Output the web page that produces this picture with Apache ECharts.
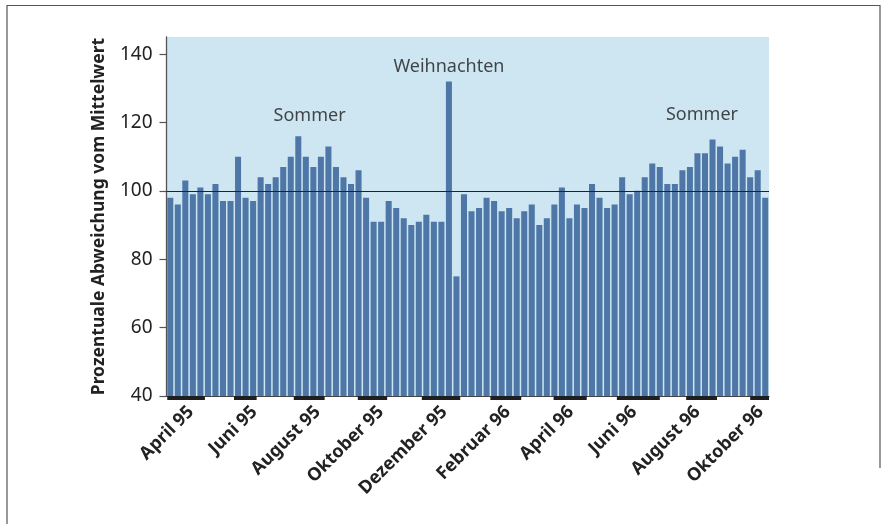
<!DOCTYPE html>
<html>
<head>
<meta charset="utf-8">
<script src="https://cdn.jsdelivr.net/npm/echarts@6/dist/echarts.min.js"></script>
<style>html,body{margin:0;padding:0;background:#fff;}#c{width:888px;height:524px;}</style>
</head>
<body>
<div id="c"></div>
<script>
// Weekly values, April 95 - October 96 (percent of mean)
var weeks = [];
var values = [98,96,103,99,101,99,102,97,97,110,98,97,104,102,104,107,110,116,110,107,
              110,113,107,104,102,106,98,91,91,97,95,92,90,91,93,91,91,132,75,99,
              94,95,98,97,94,95,92,94,96,90,92,96,101,92,96,95,102,98,95,96,
              104,99,100,104,108,107,102,102,106,107,111,111,115,113,108,110,112,104,106,98];
for (var i = 0; i < values.length; i++) weeks.push(String(i + 1));
var yTicks = [40, 60, 80, 100, 120, 140];
var monthLabels = ['April 95','Juni 95','August 95','Oktober 95','Dezember 95',
                   'Februar 96','April 96','Juni 96','August 96','Oktober 96'];
var monthLabelPos = [3.25, 11.66, 20.07, 28.48, 36.9, 45.3, 53.7, 62.1, 70.5, 78.9];
// labelled months as spans in week units [start, end]
var monthSpans = [[0.1,5.1],[8.96,11.97],[16.9,21.0],[25.4,29.3],[33.9,39.0],
                  [43.0,47.1],[51.4,55.8],[59.8,65.5],[69.0,73.1],[77.5,80]];
var notes = [['Sommer', 19.0, 122], ['Weihnachten', 37.5, 136.2], ['Sommer', 71.1, 122.2]];

var chart = echarts.init(document.getElementById('c'), null, {renderer: 'canvas'});
var L = 166.5, R = 119;
chart.setOption({
  animation: false,
  textStyle: {fontFamily: 'Noto Sans'},
  graphic: [
    {type: 'polyline', shape: {points: [[7, 524], [7, 5.5], [880, 5.5], [880, 468]]},
     style: {stroke: '#555', lineWidth: 1.2, fill: null}, silent: true}
  ],
  grid: [
    {left: L, right: R, top: 37, bottom: 128, show: true, backgroundColor: '#cde6f2', borderWidth: 0},
    {left: L, right: R, top: 396, height: 4}
  ],
  xAxis: [
    {type: 'category', gridIndex: 0, data: weeks,
     axisLine: {show: true, lineStyle: {color: '#444', width: 1.2}},
     axisTick: {show: false}, axisLabel: {show: false}, splitLine: {show: false}},
    {type: 'value', gridIndex: 0, min: 0, max: 80, show: false},
    {type: 'value', gridIndex: 1, min: 0, max: 80,
     axisLine: {show: false}, axisTick: {show: false}, splitLine: {show: false},
     axisLabel: {show: true, rotate: 45, margin: 9, fontSize: 18, fontWeight: 'bold', color: '#222',
       customValues: monthLabelPos,
       formatter: function (v) {
         for (var k = 0; k < monthLabelPos.length; k++) if (Math.abs(monthLabelPos[k] - v) < 1e-6) return monthLabels[k];
         return '';
       }}}
  ],
  yAxis: [
    {type: 'value', gridIndex: 0, min: 40, max: 145,
     name: 'Prozentuale Abweichung vom Mittelwert', nameLocation: 'middle', nameGap: 58, nameRotate: 90,
     nameTextStyle: {fontSize: 17.5, fontWeight: 'bold', color: '#222'},
     axisLine: {show: true, lineStyle: {color: '#555', width: 1.3}},
     axisTick: {show: true, length: 7, customValues: yTicks, lineStyle: {color: '#555', width: 1.2}},
     axisLabel: {fontSize: 19, color: '#222', margin: 14, customValues: yTicks},
     splitLine: {show: false}},
    {type: 'value', gridIndex: 1, min: 0, max: 1, show: false}
  ],
  series: [
    {type: 'bar', xAxisIndex: 0, yAxisIndex: 0, data: values, barCategoryGap: '20%',
     itemStyle: {color: '#4e77a7'},
     markLine: {silent: true, symbol: 'none', z: 10, label: {show: false},
       lineStyle: {color: '#222', width: 1.2, type: 'solid'}, data: [{yAxis: 100}]}},
    {type: 'scatter', xAxisIndex: 1, yAxisIndex: 0, symbolSize: 1, itemStyle: {color: 'rgba(0,0,0,0)'},
     data: notes.map(function (n) { return {name: n[0], value: [n[1], n[2]]}; }),
     label: {show: true, position: 'inside', formatter: '{b}', fontSize: 18, color: '#1a1a1a'}},
    {type: 'custom', xAxisIndex: 2, yAxisIndex: 1, data: monthSpans,
     renderItem: function (params, api) {
       var p0 = api.coord([api.value(0), 1]);
       var p1 = api.coord([api.value(1), 0]);
       return {type: 'rect', shape: {x: p0[0], y: p0[1], width: p1[0] - p0[0], height: p1[1] - p0[1]},
               style: {fill: '#1f1f1f'}};
     }}
  ]
});
</script>
</body>
</html>
